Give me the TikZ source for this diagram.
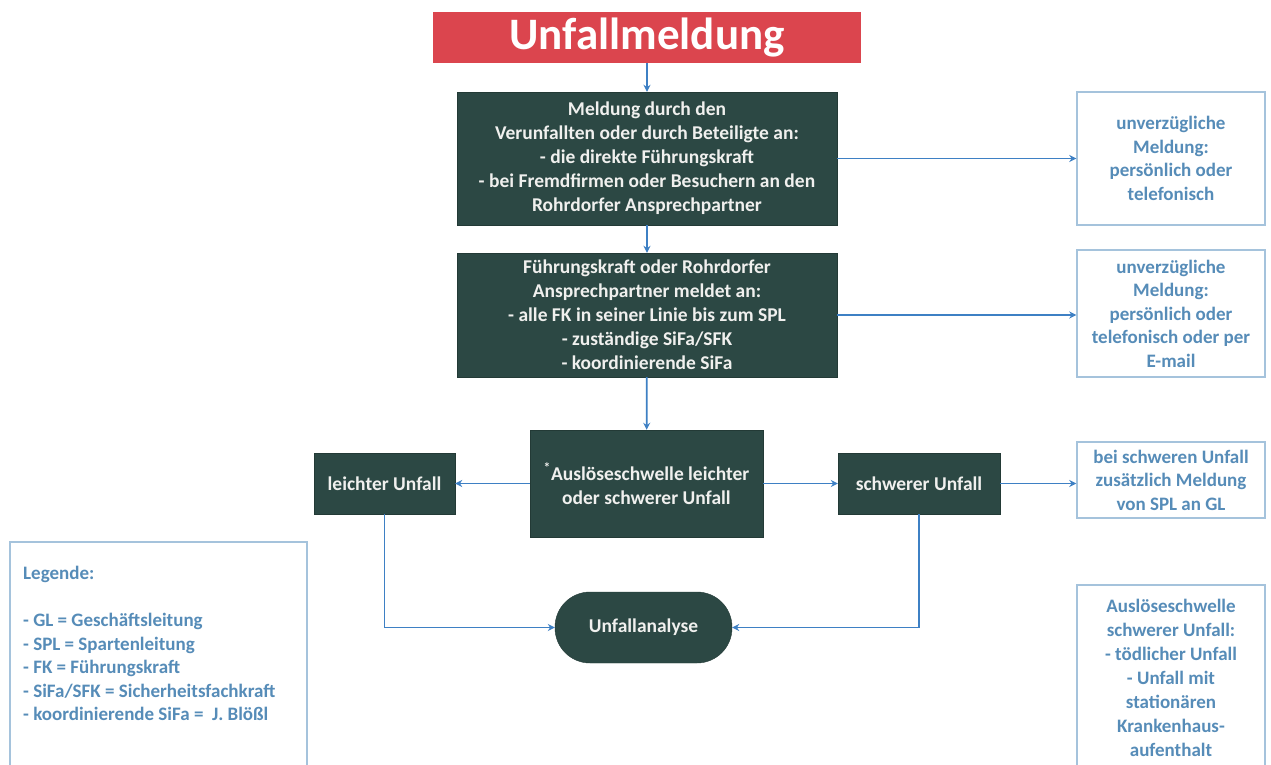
\documentclass[tikz,border=0pt]{standalone}
\usepackage{fontspec}
\setmainfont{Carlito}
\usetikzlibrary{arrows.meta}
\definecolor{titlered}{RGB}{219,69,78}
\definecolor{darkbox}{RGB}{44,72,68}
\definecolor{arrowblue}{RGB}{62,128,196}
\definecolor{lighttext}{RGB}{86,140,184}
\definecolor{lightborder}{RGB}{165,195,220}
\definecolor{boxtext}{RGB}{240,240,238}
\tikzset{
  darknode/.style={fill=darkbox, draw=darkbox!80!black, text=boxtext, align=center,
    font=\bfseries\fontsize{19.5}{24}\selectfont, inner sep=0pt},
  infonode/.style={draw=lightborder, line width=1.5pt, fill=white, text=lighttext, align=center,
    font=\bfseries\fontsize{19}{23.5}\selectfont, inner sep=0pt},
  flow/.style={draw=arrowblue, line width=1.7pt, -{Stealth[length=7pt,width=7pt]}},
}
\begin{document}
\begin{tikzpicture}[x=1pt,y=-1pt]
\useasboundingbox (0,0) rectangle (1271,765);
\fill[white] (0,0) rectangle (1271,765);

\node[fill=titlered, text=white, minimum width=428pt, minimum height=51pt, inner sep=0pt,
  font=\bfseries\fontsize{45}{46}\selectfont] (title) at (647,37.5) {Unfallmeldung};

\node[darknode, minimum width=380pt, minimum height=133pt] (b1) at (647,158.5)
  {Meldung durch den\\Verunfallten oder durch Beteiligte an:\\- die direkte Führungskraft\\- bei Fremdfirmen oder Besuchern an den\\Rohrdorfer Ansprechpartner};

\node[darknode, minimum width=380pt, minimum height=124pt] (b2) at (647,315)
  {Führungskraft oder Rohrdorfer\\Ansprechpartner meldet an:\\- alle FK in seiner Linie bis zum SPL\\- zuständige SiFa/SFK\\- koordinierende SiFa};

\node[darknode, minimum width=233pt, minimum height=107pt] (b3) at (646.5,483.5)
  {\textsuperscript{*}Auslöseschwelle leichter\\oder schwerer Unfall};

\node[darknode, minimum width=141pt, minimum height=61pt] (leicht) at (384.5,483.5) {leichter Unfall};
\node[darknode, minimum width=162pt, minimum height=61pt] (schwer) at (919,483.5) {schwerer Unfall};

\node[darknode, minimum width=177pt, minimum height=71pt, rounded corners=35pt] (ua) at (643.5,627.5) {Unfallanalyse};

\node[infonode, minimum width=188pt, minimum height=133pt] (r1) at (1171,158.5)
  {unverzügliche\\Meldung:\\persönlich oder\\telefonisch};
\node[infonode, minimum width=188pt, minimum height=127pt] (r2) at (1171,313.5)
  {unverzügliche\\Meldung:\\persönlich oder\\telefonisch oder per\\E-mail};
\node[infonode, minimum width=188pt, minimum height=76pt] (r3) at (1171,480)
  {bei schweren Unfall\\zusätzlich Meldung\\von SPL an GL};

% open-bottom info box (Auslöseschwelle)
\draw[lightborder, line width=1.5pt] (1077,770) -- (1077,585) -- (1265,585) -- (1265,770);
\node[text=lighttext, align=center, font=\bfseries\fontsize{19}{24}\selectfont, inner sep=0pt] (r4) at (1171,678)
  {Auslöseschwelle\\schwerer Unfall:\\- tödlicher Unfall\\- Unfall mit\\stationären\\Krankenhaus-\\aufenthalt};

% legend box
\draw[lightborder, line width=1.5pt] (10,770) -- (10,542) -- (307,542) -- (307,770);
\node[text=lighttext, align=left, anchor=north west, font=\bfseries\fontsize{19}{23.5}\selectfont, inner sep=0pt] (leg) at (23,566)
  {Legende:\\[23.5pt]- GL = Geschäftsleitung\\- SPL = Spartenleitung\\- FK = Führungskraft\\- SiFa/SFK = Sicherheitsfachkraft\\- koordinierende SiFa = \ J. Blößl};

% connectors
\draw[flow] (title) -- (b1);
\draw[flow] (b1) -- (b2);
\draw[flow] (b2) -- (b3);
\draw[flow] (b3) -- (leicht);
\draw[flow] (b3) -- (schwer);
\draw[flow] (leicht.south) |- (ua.west);
\draw[flow] (schwer.south) |- (ua.east);
\draw[flow] (b1.east) -- (r1.west);
\draw[flow] (b2.east) -- (b2.east -| r2.west);
\draw[flow] (schwer.east) -- (schwer.east -| r3.west);
\end{tikzpicture}
\end{document}
